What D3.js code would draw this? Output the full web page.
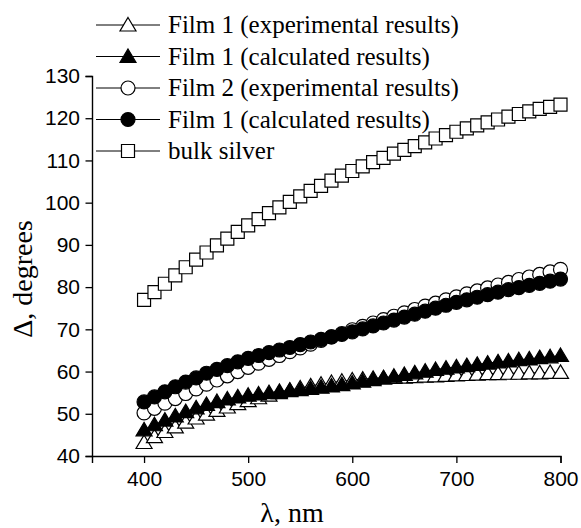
<!DOCTYPE html>
<html>
<head>
    <script type="text/javascript" src="https://cdnjs.cloudflare.com/ajax/libs/d3/7.8.5/d3.min.js"></script>
</head>
<body style="margin:0;background:#fff">

<style type="text/css">
    svg { display:block; background:#fff; }
    .tick text { font-family: "Liberation Sans", Arial, sans-serif; font-size: 21px; fill:#000; }
    .ttl { font-family: "Liberation Serif", "Times New Roman", serif; font-size: 28px; fill:#000; }
    .leg { font-family: "Liberation Serif", "Times New Roman", serif; font-size: 25px; fill:#000; }
</style>

<script type="text/javascript">
    // wavelength, nm
    var wavelengths = d3.range(400, 801, 10);

    var film1Exp = [43.2,44.6,45.8,46.9,48.0,49.0,49.9,50.8,51.6,52.4,53.1,53.8,54.4,55.0,55.6,56.1,56.6,57.0,57.4,57.7,58.0,
                    58.2,58.4,58.5,58.6,58.7,58.8,58.9,59.0,59.1,59.2,59.3,59.4,59.5,59.5,59.6,59.6,59.7,59.7,59.8,59.8];
    var film1Calc = [46.2,47.4,48.5,49.5,50.5,51.4,52.2,52.9,53.5,54.0,54.4,54.7,55.0,55.3,55.5,55.7,56.0,56.3,56.6,56.9,57.3,
                     57.7,58.1,58.5,58.9,59.3,59.7,60.1,60.5,60.8,61.1,61.4,61.7,62.0,62.3,62.5,62.8,63.0,63.3,63.5,63.8];
    var film2Exp = [50.2,51.3,52.5,53.6,54.8,55.9,57.0,58.0,59.0,60.0,61.0,62.0,62.9,63.8,64.7,65.6,66.5,67.4,68.2,69.0,69.9,
                    70.7,71.5,72.3,73.1,73.9,74.7,75.5,76.2,77.0,77.7,78.4,79.1,79.8,80.5,81.1,81.8,82.4,83.0,83.6,84.2];
    var film1Calc2 = [52.8,54.0,55.2,56.4,57.5,58.5,59.6,60.5,61.4,62.3,63.1,63.8,64.5,65.1,65.7,66.4,67.0,67.6,68.2,68.8,69.4,
                      70.1,70.8,71.5,72.2,72.9,73.6,74.3,75.0,75.7,76.4,77.0,77.6,78.2,78.8,79.4,79.9,80.4,80.9,81.4,81.9];
    var bulkSilver = [77.0,78.8,80.8,82.8,84.7,86.5,88.2,89.9,91.5,93.1,94.6,96.1,97.5,98.9,100.2,101.5,102.8,104.0,105.2,106.4,107.5,
                      108.6,109.6,110.6,111.6,112.5,113.4,114.3,115.2,116.0,116.8,117.6,118.3,119.0,119.7,120.4,121.0,121.6,122.2,122.7,123.2];

    var seriesNames = ["Film 1 (experimental results)", "Film 1 (calculated results)", "Film 2 (experimental results)",
                       "Film 1 (calculated results)", "bulk silver"];
    var seriesShapes = ["triangle", "triangle", "circle", "circle", "square"];
    var seriesFilled = [false, true, false, true, false];
    var seriesValues = [film1Exp, film1Calc, film2Exp, film1Calc2, bulkSilver];

    var xTicks = [400, 500, 600, 700, 800];
    var yTicks = [40, 50, 60, 70, 80, 90, 100, 110, 120, 130];

    var W = 581, H = 528;
    var x = d3.scaleLinear().domain([350, 800]).range([92, 560.5]);
    var y = d3.scaleLinear().domain([40, 130]).range([456, 76]);

    var svg = d3.select("body").append("svg").attr("width", W).attr("height", H);

    function marker(shape) {
        if (shape == "triangle") return "M0,-7.5L8,6L-8,6Z";
        if (shape == "circle") return "M7,0A7,7 0 1,1 -7,0A7,7 0 1,1 7,0Z";
        return "M-6.5,-6.5H6.5V6.5H-6.5Z";
    }

    // axes
    var xAxis = d3.axisBottom(x).tickValues(xTicks).tickSize(7).tickPadding(8).tickFormat(d3.format("d"));
    var xMinor = d3.axisBottom(x).tickValues([350, 450, 550, 650, 750]).tickSize(4).tickFormat("");
    var yAxis = d3.axisLeft(y).tickValues(yTicks).tickSize(6.5).tickPadding(5.5).tickFormat(d3.format("d"));
    var yMinor = d3.axisLeft(y).tickValues(d3.range(45, 130, 10)).tickSize(3.5).tickFormat("");

    var gx = svg.append("g").attr("transform", "translate(0," + y(40) + ")");
    gx.call(xMinor);
    gx.call(xAxis);
    var gy = svg.append("g").attr("transform", "translate(" + x(350) + ",0)");
    gy.call(yMinor);
    gy.call(yAxis);
    svg.selectAll(".domain").attr("stroke", "#000").attr("stroke-width", 1.4);
    svg.selectAll(".tick line").attr("stroke", "#000").attr("stroke-width", 1.3);

    // series
    var line = d3.line().x(function(d, i) { return x(wavelengths[i]); }).y(function(d) { return y(d); });
    seriesValues.forEach(function(vals, s) {
        var g = svg.append("g");
        g.append("path").attr("d", line(vals)).attr("fill", "none").attr("stroke", "#000").attr("stroke-width", 1);
        g.selectAll("path.pt").data(vals).enter().append("path")
            .attr("class", "pt")
            .attr("d", marker(seriesShapes[s]))
            .attr("transform", function(d, i) { return "translate(" + x(wavelengths[i]) + "," + y(d) + ")"; })
            .attr("fill", seriesFilled[s] ? "#000" : "#fff")
            .attr("stroke", "#000").attr("stroke-width", 1.2);
    });

    // legend
    var legY = d3.scalePoint().domain(d3.range(seriesNames.length)).range([25, 151]);
    seriesNames.forEach(function(name, s) {
        var g = svg.append("g").attr("transform", "translate(0," + legY(s) + ")");
        g.append("line").attr("x1", 96).attr("x2", 160).attr("stroke", "#000").attr("stroke-width", 1);
        g.append("path").attr("d", marker(seriesShapes[s])).attr("transform", "translate(128,0)")
            .attr("fill", seriesFilled[s] ? "#000" : "#fff").attr("stroke", "#000").attr("stroke-width", 1.2);
        g.append("text").attr("class", "leg").attr("x", 168).attr("y", 8).text(name);
    });

    // titles
    svg.append("text").attr("class", "ttl").attr("x", 292).attr("y", 522).attr("text-anchor", "middle").text("λ, nm");
    svg.append("text").attr("class", "ttl").attr("text-anchor", "middle")
        .attr("transform", "translate(32,279) rotate(-90)").text("Δ, degrees");
</script>

</body>
</html>
